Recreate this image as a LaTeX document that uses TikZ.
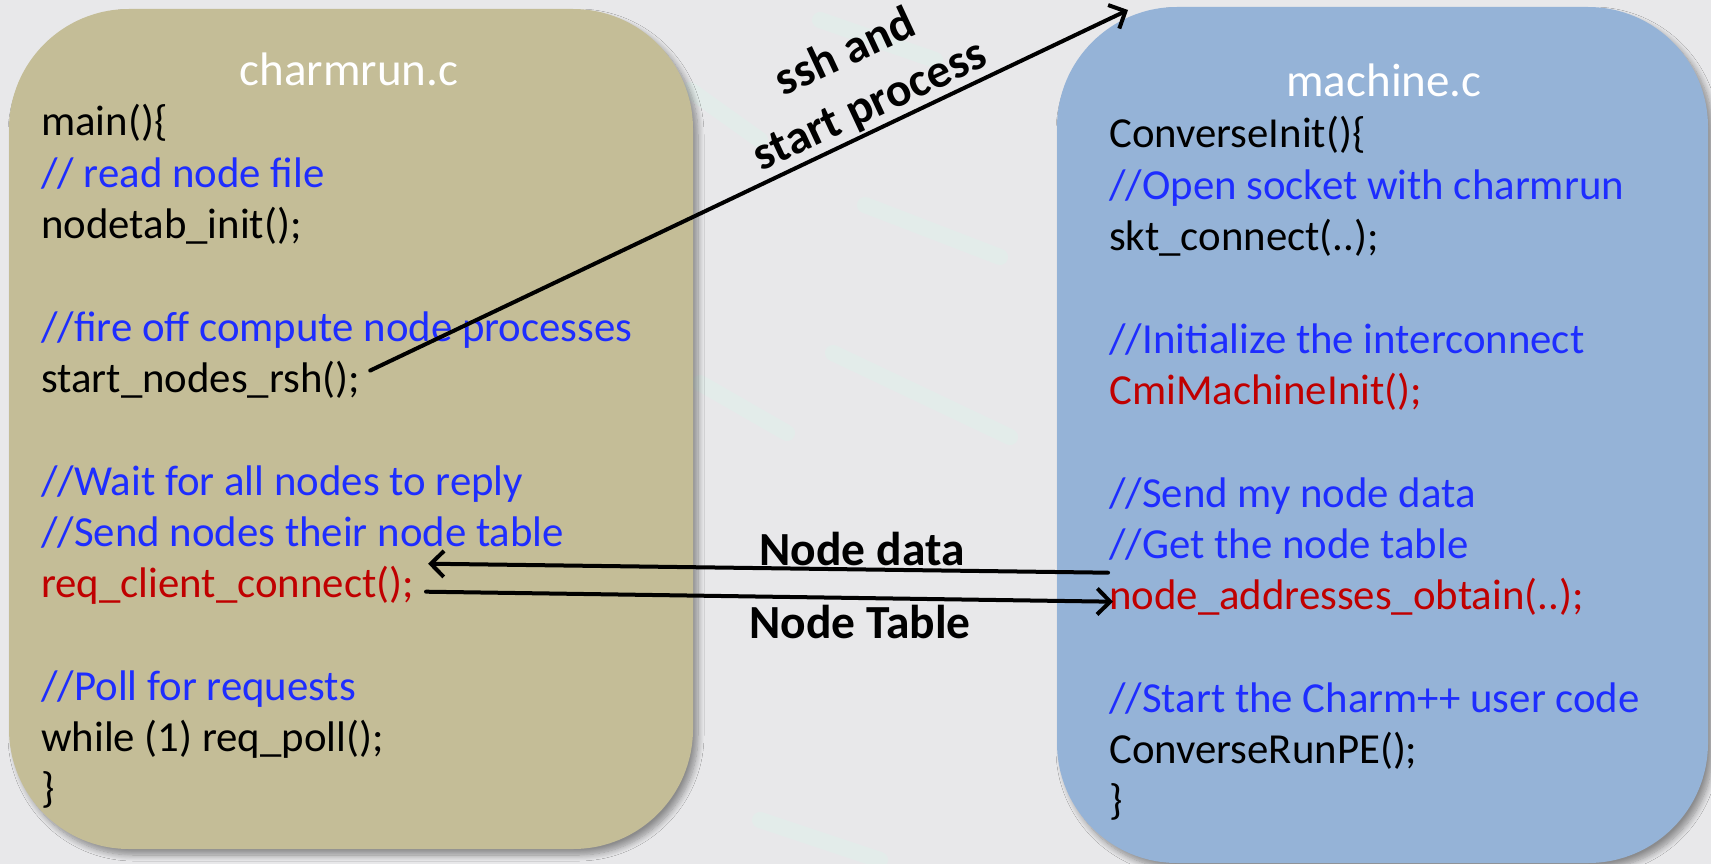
\documentclass[tikz,border=0pt]{standalone}
\usepackage{fontspec}
\setmainfont{Carlito}
\usetikzlibrary{arrows.meta,shadows.blur,calc}
\definecolor{tanbox}{HTML}{C4BD97}
\definecolor{bluebox}{HTML}{95B3D7}
\definecolor{cmt}{RGB}{30,45,255}
\definecolor{fn}{HTML}{C00000}
\definecolor{bg}{RGB}{232,232,234}
\definecolor{streak}{RGB}{218,246,236}

\begin{document}
\begin{tikzpicture}[x=1pt,y=-1pt,
  panel/.style={rounded corners=120pt, inner sep=0pt,
    blur shadow={shadow xshift=5pt,shadow yshift=-6pt,shadow blur steps=10,shadow blur radius=6pt,shadow opacity=40}},
  code/.style={anchor=base west, inner sep=0pt, font=\fontsize{42.8}{52}\selectfont, text=black},
  comment/.style={code, text=cmt},
  call/.style={code, text=fn},
  title/.style={anchor=center, inner sep=0pt, text=white, font=\fontsize{47}{56}\selectfont},
  lbl/.style={inner sep=0pt, font=\fontsize{47.5}{58}\selectfont\bfseries, text=black},
  link/.style={line width=4pt, line cap=round, -{Straight Barb[length=13pt,width=26pt]}},
  haze/.style={draw=streak, line width=16pt, line cap=round, opacity=0.35}
]
% page and backdrop
\fill[bg] (0,0) rectangle (1711,864);
\useasboundingbox (0,0) rectangle (1711,864);
\draw[haze] (833,353) -- (1010,437);
\draw[haze] (700,383) -- (787,433);
\draw[haze] (865,205) -- (1000,257);
\draw[haze] (820,20) -- (935,60);
\draw[haze] (690,90) -- (760,140);
\draw[haze] (760,820) -- (880,860);

% the two source files
\node[panel, fill=tanbox, minimum width=684pt, minimum height=840pt] (left) at (351,429) {};
\node[panel, fill=bluebox, minimum width=651pt, minimum height=856pt] (right) at (1382.5,435) {};

\node[title] (ltitle) at (349,69) {charmrun.c};
\node[title] (rtitle) at (1384,80) {machine.c};

% charmrun.c
\node[code]    (l1)  at (41,136)   {main()\{};
\node[comment] (l2)  at (41,187.3) {// read node file};
\node[code]    (l3)  at (41,238.6) {nodetab\_init();};
\node[comment] (l4)  at (41,341.2) {//fire off compute node processes};
\node[code]    (l5)  at (41,392.5) {start\_nodes\_rsh();};
\node[comment] (l6)  at (41,495.1) {//Wait for all nodes to reply};
\node[comment] (l7)  at (41,546.4) {//Send nodes their node table};
\node[call]    (l8)  at (41,597.7) {req\_client\_connect();};
\node[comment] (l9)  at (41,700.3) {//Poll for requests};
\node[code]    (l10) at (41,751.6) {while (1) req\_poll();};
\node[code]    (l11) at (41,802.9) {\}};

% machine.c
\node[code]    (r1)  at (1109,148)   {ConverseInit()\{};
\node[comment] (r2)  at (1109,199.3) {//Open socket with charmrun};
\node[code]    (r3)  at (1109,250.6) {skt\_connect(..);};
\node[comment] (r4)  at (1109,353.2) {//Initialize the interconnect};
\node[call]    (r5)  at (1109,404.5) {CmiMachineInit();};
\node[comment] (r6)  at (1109,507.1) {//Send my node data};
\node[comment] (r7)  at (1109,558.4) {//Get the node table};
\node[call]    (r8)  at (1109,609.7) {node\_addresses\_obtain(..);};
\node[comment] (r9)  at (1109,712.3) {//Start the Charm++ user code};
\node[code]    (r10) at (1109,763.6) {ConverseRunPE();};
\node[code]    (r11) at (1109,814.9) {\}};

% connectors
\coordinate (sshStart) at ($(l5.base east)+(10,-22)$);
\coordinate (sshEnd) at (1128,10);
\draw[link] (sshStart) -- (sshEnd);
\node[lbl, align=center, rotate=25] (sshlbl) at (858,80) {ssh and\\start process};

\coordinate (dataFrom) at ($(r8.base west)+(-1,-37)$);
\coordinate (dataTo) at ($(l8.base east)+(14,-34)$);
\draw[link] (dataFrom) -- (dataTo);
\node[lbl] (datalbl) at (862,549) {Node data};

\coordinate (tabFrom) at ($(l8.base east)+(12,-6)$);
\coordinate (tabTo) at ($(r8.base west)+(4,-8)$);
\draw[link] (tabFrom) -- (tabTo);
\node[lbl] (tablbl) at (860,622) {Node Table};
\end{tikzpicture}
\end{document}
